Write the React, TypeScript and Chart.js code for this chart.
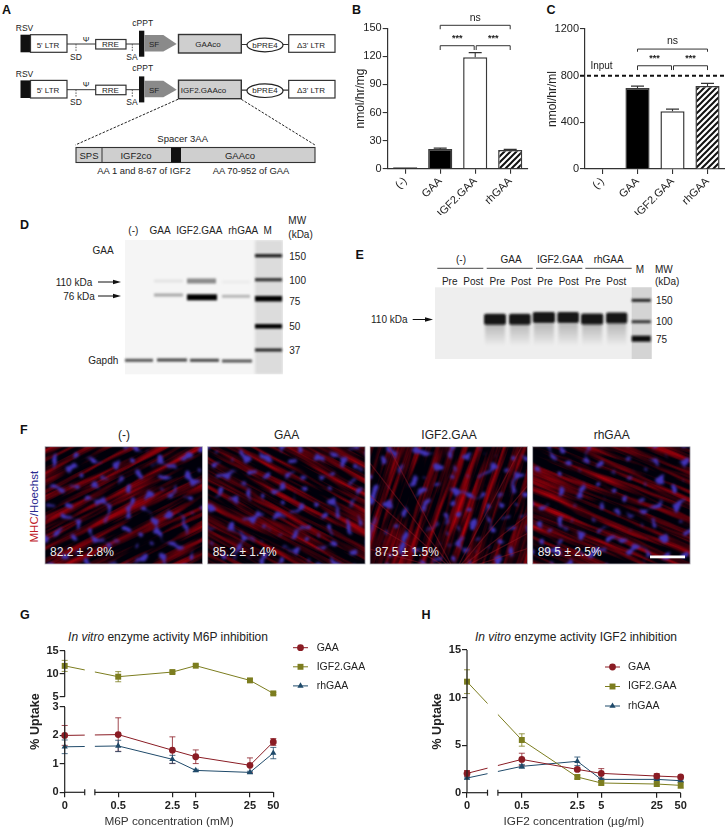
import React, { useEffect, useRef } from "react";
import { Chart, registerables, LinearScale } from "chart.js";
import { drawPoint } from "chart.js/helpers";

// ---------- chart data ----------
const BAR_CATEGORIES = ["(-)", "GAA", "IGF2.GAA", "rhGAA"];
const B_VALUES = [0.4, 21, 119, 20];
const B_ERRORS = [0, 1, 5, 0.6];
const B_TICKS = [0, 30, 60, 90, 120, 150];
const C_VALUES = [0, 695, 495, 712];
const C_ERRORS = [0, 15, 18, 22];
const C_TICKS = [0, 400, 800, 1200];
const C_INPUT = 800;

const CONC = [0, 0.5, 2.5, 5, 25, 50];
const G_TICKS = [0, 1, 2, 3, 5, 10, 15];
const G_GAA = [2.0, 2.03, 1.48, 1.25, 0.95, 1.77];
const G_GAA_ERR = [0.35, 0.59, 0.47, 0.24, 0.26, 0.12];
const G_IGF2 = [11.7, 9.35, 10.36, 11.74, 8.55, 5.72];
const G_IGF2_ERR = [1.2, 1.1, 0.25, 0.2, 0.3, 0.25];
const G_RH = [1.6, 1.63, 1.16, 0.77, 0.7, 1.38];
const G_RH_ERR = [0.24, 0.2, 0.14, 0.04, 0.04, 0.2];

const H_TICKS = [0, 5, 10, 15];
const H_GAA = [2.03, 3.5, 2.45, 2.03, 1.75, 1.65];
const H_GAA_ERR = [0.3, 0.65, 0.15, 0.5, 0.25, 0.1];
const H_IGF2 = [11.67, 5.54, 1.65, 1.02, 0.91, 0.77];
const H_IGF2_ERR = [1.25, 0.65, 0.2, 0.2, 0.2, 0.3];
const H_RH = [1.54, 2.77, 3.3, 1.4, 1.4, 1.26];
const H_RH_ERR = [0.1, 0.2, 0.45, 0.1, 0.1, 0.1];

const GAA_COLOR = "#8a1c24";
const IGF2_COLOR = "#7c7d1f";
const RH_COLOR = "#1f4a6a";
const FONT = "'Liberation Sans', Arial, sans-serif";
const INK = "#222";

// ---------- broken axes ----------
const Y_KNOTS = [[0, 0], [3, 0.6024], [5, 0.675], [15, 1]];
const BREAK_START = 0.096;
const BREAK_END_VALUE = 0.25;
const FRAC_05 = 0.2565;

class BrokenY extends LinearScale {
  static id = "brokenY";
  getPixelForValue(v: any) {
    if (v === null || v === undefined) return NaN;
    for (let i = 1; i < Y_KNOTS.length; i++) {
      const [a, fa] = Y_KNOTS[i - 1];
      const [b, fb] = Y_KNOTS[i];
      if (v <= b) return this.getPixelForDecimal(fa + ((v - a) / (b - a)) * (fb - fa));
    }
    return this.getPixelForDecimal(1);
  }
}
class BreakLogX extends LinearScale {
  static id = "breakLogX";
  getPixelForValue(v: any) {
    if (v === null || v === undefined) return NaN;
    if (v <= 0) return this.getPixelForDecimal(0);
    const f = FRAC_05 + (Math.log10(v / 0.5) / 2) * (1 - FRAC_05);
    return this.getPixelForDecimal(f);
  }
}
Chart.register(...registerables, BrokenY, BreakLogX);
Chart.defaults.font.family = FONT;
Chart.defaults.color = INK;

// ---------- plugins ----------
const barErrors = (errors: number[]) => ({
  id: "barErrors",
  afterDatasetsDraw(chart: any) {
    const { ctx, scales } = chart;
    const vals = chart.data.datasets[0].data;
    ctx.save();
    ctx.strokeStyle = "#333";
    ctx.lineWidth = 1.1;
    errors.forEach((e, i) => {
      if (!e) return;
      const x = scales.x.getPixelForValue(i);
      const y0 = scales.y.getPixelForValue(vals[i]);
      const y1 = scales.y.getPixelForValue(vals[i] + e);
      ctx.beginPath();
      ctx.moveTo(x, y0);
      ctx.lineTo(x, y1);
      ctx.moveTo(x - 6.5, y1);
      ctx.lineTo(x + 6.5, y1);
      ctx.stroke();
    });
    ctx.restore();
  },
});

type Sig = { from: number; to: number; bar: number; leg: number; label: string; text: number; bold?: boolean; inset?: number };
const brackets = (list: Sig[]) => ({
  id: "brackets",
  afterDraw(chart: any) {
    const { ctx, scales } = chart;
    ctx.save();
    ctx.strokeStyle = "#333";
    ctx.fillStyle = INK;
    ctx.lineWidth = 1;
    ctx.textAlign = "center";
    ctx.textBaseline = "middle";
    list.forEach((s) => {
      const xa = scales.x.getPixelForValue(s.from) + (s.inset && s.from > 1 ? s.inset : 0);
      const xb = scales.x.getPixelForValue(s.to) - (s.inset && s.from === 1 && s.to === 2 ? s.inset : 0);
      const yb = scales.y.getPixelForValue(s.bar);
      const yl = scales.y.getPixelForValue(s.leg);
      ctx.beginPath();
      ctx.moveTo(xa, yl);
      ctx.lineTo(xa, yb);
      ctx.lineTo(xb, yb);
      ctx.lineTo(xb, yl);
      ctx.stroke();
      ctx.font = s.bold ? `bold 9px ${FONT}` : `10.5px ${FONT}`;
      ctx.fillText(s.label, (xa + xb) / 2, scales.y.getPixelForValue(s.text));
    });
    ctx.restore();
  },
});

const inputLine = {
  id: "inputLine",
  afterDraw(chart: any) {
    const { ctx, scales } = chart;
    const y = scales.y.getPixelForValue(C_INPUT);
    ctx.save();
    ctx.strokeStyle = "#111";
    ctx.lineWidth = 2;
    ctx.setLineDash([4, 3]);
    ctx.beginPath();
    ctx.moveTo(scales.x.left - 5, y);
    ctx.lineTo(scales.x.right, y);
    ctx.stroke();
    ctx.setLineDash([]);
    ctx.fillStyle = INK;
    ctx.font = `10px ${FONT}`;
    ctx.textAlign = "center";
    ctx.textBaseline = "middle";
    ctx.fillText("Input", scales.x.left + 16.5, y - 9.5);
    ctx.restore();
  },
};

const lineErrors = {
  id: "lineErrors",
  beforeDatasetsDraw(chart: any) {
    const { ctx, scales } = chart;
    ctx.save();
    ctx.lineWidth = 1;
    chart.data.datasets.forEach((ds: any) => {
      ctx.strokeStyle = ds.borderColor;
      ctx.globalAlpha = 0.8;
      ds.data.forEach((p: any, i: number) => {
        const e = ds.errors[i];
        const x = scales.x.getPixelForValue(p.x);
        const a = scales.y.getPixelForValue(p.y + e);
        const b = scales.y.getPixelForValue(p.y - e);
        ctx.beginPath();
        ctx.moveTo(x, a);
        ctx.lineTo(x, b);
        ctx.moveTo(x - 3, a);
        ctx.lineTo(x + 3, a);
        ctx.moveTo(x - 3, b);
        ctx.lineTo(x + 3, b);
        ctx.stroke();
      });
    });
    ctx.restore();
  },
};

const brokenAxes = (broken: boolean) => ({
  id: "brokenAxes",
  afterDatasetsDraw(chart: any) {
    const { ctx, scales, chartArea } = chart;
    const { x, y } = scales;
    const xa = x.left + BREAK_START * x.width;
    const xb = x.getPixelForValue(BREAK_END_VALUE);
    ctx.save();
    ctx.fillStyle = "#fff";
    ctx.fillRect(xa, chartArea.top - 2, xb - xa, chartArea.height + 1);
    ctx.strokeStyle = INK;
    ctx.lineWidth = 1.2;
    const seg = (x1: number, y1: number, x2: number, y2: number) => {
      ctx.beginPath();
      ctx.moveTo(x1, y1);
      ctx.lineTo(x2, y2);
      ctx.stroke();
    };
    seg(x.left, chartArea.bottom, xa, chartArea.bottom);
    seg(xb, chartArea.bottom, x.right, chartArea.bottom);
    seg(xa, chartArea.bottom - 3, xa, chartArea.bottom + 3);
    seg(xb, chartArea.bottom - 3, xb, chartArea.bottom + 3);
    if (broken) {
      seg(x.left, y.getPixelForValue(0), x.left, y.getPixelForValue(3));
      seg(x.left, y.getPixelForValue(5), x.left, y.getPixelForValue(15));
    } else {
      seg(x.left, chartArea.bottom, x.left, chartArea.top);
    }
    ctx.restore();
  },
});

const sideLegend = (lineX: number, textX: number, yTop: number, step: number) => ({
  id: "sideLegend",
  afterDraw(chart: any) {
    const { ctx } = chart;
    ctx.save();
    chart.data.datasets.forEach((ds: any, i: number) => {
      const y = yTop + i * step;
      ctx.strokeStyle = ds.borderColor;
      ctx.fillStyle = ds.borderColor;
      ctx.lineWidth = 1;
      ctx.beginPath();
      ctx.moveTo(lineX, y);
      ctx.lineTo(lineX + 15, y);
      ctx.stroke();
      drawPoint(ctx, { pointStyle: ds.pointStyle, radius: ds.pointRadius, rotation: 0, borderWidth: 0 }, lineX + 7.5, y);
      ctx.fillStyle = INK;
      ctx.font = `10.5px ${FONT}`;
      ctx.textAlign = "left";
      ctx.textBaseline = "middle";
      ctx.fillText(ds.label, textX, y);
    });
    ctx.restore();
  },
});

// ---------- chart configs ----------
function hatch() {
  const c = document.createElement("canvas");
  c.width = 6;
  c.height = 6;
  const g = c.getContext("2d")!;
  g.fillStyle = "#fff";
  g.fillRect(0, 0, 6, 6);
  g.strokeStyle = "#111";
  g.lineWidth = 2;
  g.beginPath();
  g.moveTo(-1, 7);
  g.lineTo(7, -1);
  g.moveTo(-1, 1);
  g.lineTo(1, -1);
  g.moveTo(5, 7);
  g.lineTo(7, 5);
  g.stroke();
  return g.createPattern(c, "repeat");
}

function barConfig(
  values: number[], errors: number[], ticks: number[], max: number, title: string,
  yWidth: number, padTop: number, padRight: number, xHeight: number, titlePad: number, plugins: any[]
) {
  return {
    type: "bar",
    data: {
      labels: BAR_CATEGORIES,
      datasets: [{
        data: values,
        backgroundColor: ["#000", "#000", "#fff", hatch()],
        borderColor: "#3a3a3a",
        borderWidth: 1.5,
        barPercentage: 0.69,
        categoryPercentage: 1,
        minBarLength: values[0] > 0 ? 1.5 : 0,
      }],
    },
    options: {
      responsive: false,
      animation: false,
      layout: { padding: { top: padTop, right: padRight, left: 0, bottom: 0 } },
      plugins: { legend: { display: false }, tooltip: { enabled: false } },
      scales: {
        x: {
          afterFit: (s: any) => { s.height = xHeight; },
          grid: { offset: false, drawOnChartArea: false, drawTicks: true, tickLength: 5, color: "#333", lineWidth: 1.1 },
          border: { display: true, color: "#333", width: 1.2 },
          ticks: { minRotation: 45, maxRotation: 45, autoSkip: false, padding: 1, font: { size: 11 }, color: INK },
        },
        y: {
          min: 0,
          max,
          afterFit: (s: any) => { s.width = yWidth; },
          afterBuildTicks: (s: any) => { s.ticks = ticks.map((value) => ({ value })); },
          grid: { drawOnChartArea: false, drawTicks: true, tickLength: 5, color: "#333", lineWidth: 1.1 },
          border: { display: true, color: "#333", width: 1.2 },
          ticks: { font: { size: 11 }, color: INK, padding: 1, callback: (v: any) => String(v) },
          title: { display: true, text: title, font: { size: 12 }, color: INK, padding: { top: titlePad, bottom: 0 } },
        },
      },
    },
    plugins: [barErrors(errors), ...plugins],
  };
}

const pts = (ys: number[]) => ys.map((y, i) => ({ x: CONC[i], y }));
const series = (label: string, ys: number[], errors: number[], color: string, pointStyle: string, pointRadius: number) => ({
  label, data: pts(ys), errors, borderColor: color, backgroundColor: color, pointStyle, pointRadius,
  pointBorderWidth: 0, borderWidth: 1, clip: false, tension: 0,
});

function lineConfig(
  sets: any[], yType: string, yTicks: number[], xTitle: string, yWidth: number, padTop: number, padRight: number,
  titlePad: number, xHeight: number, broken: boolean, legend: any
) {
  return {
    type: "line",
    data: { datasets: sets },
    options: {
      responsive: false,
      animation: false,
      layout: { padding: { top: padTop, right: padRight, left: 0, bottom: 0 } },
      plugins: { legend: { display: false }, tooltip: { enabled: false } },
      scales: {
        x: {
          type: "breakLogX",
          min: 0,
          max: 50,
          afterFit: (s: any) => { s.height = xHeight; },
          afterBuildTicks: (s: any) => { s.ticks = CONC.map((value) => ({ value })); },
          grid: { drawOnChartArea: false, drawTicks: true, tickLength: 5, color: INK, lineWidth: 1.2 },
          border: { display: false },
          ticks: { autoSkip: false, maxRotation: 0, minRotation: 0, padding: 2, font: { size: 11, weight: "bold" }, color: INK, callback: (v: any) => String(v) },
          title: { display: true, text: xTitle, font: { size: 11.8 }, color: "#333", padding: { top: 0, bottom: 1 } },
        },
        y: {
          type: yType,
          min: 0,
          max: 15,
          afterFit: (s: any) => { s.width = yWidth; },
          afterBuildTicks: (s: any) => { s.ticks = yTicks.map((value) => ({ value })); },
          grid: { drawOnChartArea: false, drawTicks: true, tickLength: 5, color: INK, lineWidth: 1.2 },
          border: { display: false },
          ticks: { autoSkip: false, padding: 1, font: { size: 11, weight: "bold" }, color: INK, callback: (v: any) => String(v) },
          title: { display: true, text: "% Uptake", font: { size: 12.5, weight: "bold" }, color: INK, padding: { top: titlePad, bottom: 0 } },
        },
      },
    },
    plugins: [lineErrors, brokenAxes(broken), legend],
  };
}

const makeB = () =>
  barConfig(B_VALUES, B_ERRORS, B_TICKS, 150, "nmol/hr/mg", 37.7, 28.3, 7.3, 46.3, 3, [
    brackets([
      { from: 1, to: 3, bar: 153.2, leg: 149, label: "ns", text: 160.7 },
      { from: 1, to: 2, bar: 131.4, leg: 126.8, label: "***", text: 138.8, bold: true, inset: 1 },
      { from: 2, to: 3, bar: 131.4, leg: 126.8, label: "***", text: 138.8, bold: true, inset: 1 },
    ]),
  ]);
const makeC = () =>
  barConfig(C_VALUES, C_ERRORS, C_TICKS, 1200, "nmol/hr/ml", 45, 29, 0, 46, 5, [
    inputLine,
    brackets([
      { from: 1, to: 3, bar: 1028, leg: 1005, label: "ns", text: 1098 },
      { from: 1, to: 2, bar: 885, leg: 848, label: "***", text: 945, bold: true, inset: 1 },
      { from: 2, to: 3, bar: 885, leg: 848, label: "***", text: 945, bold: true, inset: 1 },
    ]),
  ]);
const makeG = () =>
  lineConfig(
    [
      series("GAA", G_GAA, G_GAA_ERR, GAA_COLOR, "circle", 3.4),
      series("IGF2.GAA", G_IGF2, G_IGF2_ERR, IGF2_COLOR, "rect", 4.2),
      series("rhGAA", G_RH, G_RH_ERR, RH_COLOR, "triangle", 3.6),
    ],
    "brokenY", G_TICKS, "M6P concentration (mM)", 44.7, 10.7, 71.7 + 20, 8, 37.7, true,
    sideLegend(273, 296.7, 7.7, 19.1)
  );
const makeH = () =>
  lineConfig(
    [
      series("GAA", H_GAA, H_GAA_ERR, GAA_COLOR, "circle", 3.4),
      series("IGF2.GAA", H_IGF2, H_IGF2_ERR, IGF2_COLOR, "rect", 4.2),
      series("rhGAA", H_RH, H_RH_ERR, RH_COLOR, "triangle", 3.6),
    ],
    "linear", H_TICKS, "IGF2 concentration (µg/ml)", 47, 10, 44.3, 10, 37.3, false,
    sideLegend(185, 208, 27, 19.5)
  );

function ChartCanvas({ make, left, top, width, height }: any) {
  const ref = useRef<HTMLCanvasElement>(null);
  useEffect(() => {
    const chart = new Chart(ref.current as any, make());
    return () => chart.destroy();
  }, []);
  return <canvas ref={ref} width={width} height={height} style={{ position: "absolute", left, top, width, height }} />;
}

// ---------- schematic helpers ----------
const T = ({ x, y, s = 8, a = "middle", w, fill = "#222", children, st }: any) => (
  <text x={x} y={y} fontSize={s} textAnchor={a} dominantBaseline="central" fontWeight={w} fill={fill} fontFamily={FONT} fontStyle={st}>
    {children}
  </text>
);
const Arrow = ({ x1, x2, y }: any) => (
  <g>
    <line x1={x1} x2={x2 - 5} y1={y} y2={y} stroke="#111" strokeWidth={1} />
    <polygon points={`${x2},${y} ${x2 - 8},${y - 2.2} ${x2 - 8},${y + 2.2}`} fill="#111" />
  </g>
);

function Construct({ dy, label }: any) {
  return (
    <g transform={`translate(0 ${dy})`}>
      <line x1={67} x2={140} y1={44} y2={44} stroke="#333" strokeWidth={1} />
      <line x1={241} x2={289} y1={44.5} y2={44.5} stroke="#333" strokeWidth={1.2} />
      <rect x={20.5} y={34.7} width={10} height={17.6} fill="#111" />
      <rect x={30.5} y={34.7} width={36.5} height={17.6} fill="#fff" stroke="#333" strokeWidth={1.2} />
      <T x={48} y={45}>5' LTR</T>
      <T x={24.5} y={28} s={8.5}>RSV</T>
      <T x={86} y={39} s={8}>Ψ</T>
      <line x1={76} x2={76} y1={44} y2={52} stroke="#555" strokeDasharray="1.5 1.2" />
      <T x={76} y={56.7} s={8.5}>SD</T>
      <rect x={95.7} y={39.5} width={30.3} height={9.5} fill="#fff" stroke="#333" strokeWidth={1.2} />
      <T x={110.5} y={44.6}>RRE</T>
      <line x1={132.3} x2={132.3} y1={44} y2={52} stroke="#555" strokeDasharray="1.5 1.2" />
      <T x={132} y={56.7} s={8.5}>SA</T>
      <rect x={139} y={30.7} width={5.3} height={26} fill="#111" />
      <T x={142.7} y={22.7} s={8.5}>cPPT</T>
      <polygon points="144.3,35 163.3,35 176.7,44 163.3,51.5 144.3,51.5" fill="#8a8a8a" />
      <T x={154} y={44.7}>SF</T>
      <rect x={178.5} y={34.5} width={62.8} height={18.5} fill="#cfcfcf" stroke="#333" strokeWidth={1.4} />
      <T x={label === "GAAco" ? 208 : 203.5} y={44.4}>{label}</T>
      <ellipse cx={265} cy={45} rx={18} ry={6.8} fill="#fff" stroke="#222" strokeWidth={1.2} />
      <T x={265} y={45}>bPRE4</T>
      <rect x={288.7} y={34.7} width={46.3} height={17.6} fill="#fff" stroke="#333" strokeWidth={1.2} />
      <T x={311} y={45}>Δ3' LTR</T>
    </g>
  );
}

// ---------- blot and micrograph decoration ----------
const D_M_BANDS = [[255.7, 3, "#111"], [279.7, 3.2, "#333"], [298.7, 5.5, "#000"], [326.3, 4.5, "#000"], [350, 3, "#222"]];
const D_BANDS = [
  [154, 183, 295, 3, "#a8a8a8"], [154, 183, 281, 3, "#e4e4e4"],
  [187, 217, 297.3, 6, "#000"], [187, 216, 281, 5, "#8a8a8a"],
  [222, 250, 296.3, 2.8, "#b4b4b4"], [222, 250, 282, 3, "#ececec"],
  [125, 153, 360.3, 3, "#555"], [157, 187, 360, 3, "#444"], [190, 219, 360.3, 3, "#444"], [222, 252, 361, 3, "#555"],
];
const E_BANDS = [
  [484, 506, 319.3], [509, 530.7, 319.3], [532.7, 555, 317.5], [557.3, 579, 317.5], [581, 603.3, 319], [606, 627.3, 318],
];
const E_M_BANDS = [[300.3, 3, "#222"], [321.7, 3, "#333"], [338.7, 6, "#111"]];
const F_PANELS = [
  { x: 45, title: "(-)", pct: "82.2 ± 2.8%", angle: -27, seed: 3 },
  { x: 207.7, title: "GAA", pct: "85.2 ± 1.4%", angle: 28, seed: 11 },
  { x: 370, title: "IGF2.GAA", pct: "87.5 ± 1.5%", angle: -72, seed: 23 },
  { x: 532.7, title: "rhGAA", pct: "89.5 ± 2.5%", angle: 22, seed: 37 },
];
const FAN_ANGLES = [-165, -150, -138, -128, -118, -62, -50, -38, -28, -18];

function CellFilter({ id, seed }: any) {
  return (
    <filter id={id} x="0" y="0" width="100%" height="100%" colorInterpolationFilters="sRGB">
      <feTurbulence type="fractalNoise" baseFrequency="0.012 0.16" numOctaves={3} seed={seed} result="s" />
      <feColorMatrix in="s" type="matrix" values="1.4 0 0 0 -0.54  0 0 0 0 0.0  0 0 0 0 0.04  0 0 0 0 1" result="red" />
      <feTurbulence type="fractalNoise" baseFrequency="0.115" numOctaves={1} seed={seed + 5} result="n" />
      <feColorMatrix in="n" type="matrix" values="0 0 0 0 0.26  0 0 0 0 0.2  0 0 0 0 0.72  9 0 0 0 -5.35" result="blue" />
      <feGaussianBlur in="blue" stdDeviation="0.9" result="softBlue" />
      <feMerge>
        <feMergeNode in="red" />
        <feMergeNode in="softBlue" />
      </feMerge>
    </filter>
  );
}

function Figure() {
  return (
    <svg width={725} height={830} style={{ position: "absolute", left: 0, top: 0 }}>
      <defs>
        <filter id="soft" x="-20%" y="-200%" width="140%" height="500%"><feGaussianBlur stdDeviation="1" /></filter>
        <filter id="softer" x="-20%" y="-30%" width="140%" height="160%"><feGaussianBlur stdDeviation="1.5" /></filter>
        <linearGradient id="smear" x1="0" y1="0" x2="0" y2="1">
          <stop offset="0" stopColor="#b4b4b4" />
          <stop offset="1" stopColor="#f0f0f0" />
        </linearGradient>
        {F_PANELS.map((p, i) => <CellFilter key={i} id={`cells${i}`} seed={p.seed} />)}
        {F_PANELS.map((p, i) => (
          <clipPath key={i} id={`clip${i}`}><rect x={p.x} y={446.7} width={157.4} height={117.3} /></clipPath>
        ))}
        <clipPath id="clipD"><rect x={125} y={240} width={158} height={134.3} /></clipPath>
      </defs>

      {/* panel letters */}
      <T x={2} y={10} s={12.5} a="start" w="bold" fill="#111">A</T>
      <T x={352} y={9.5} s={12.5} a="start" w="bold" fill="#111">B</T>
      <T x={546.5} y={9.5} s={12.5} a="start" w="bold" fill="#111">C</T>
      <T x={20} y={224.5} s={12.5} a="start" w="bold" fill="#111">D</T>
      <T x={355.5} y={255} s={12.5} a="start" w="bold" fill="#111">E</T>
      <T x={20} y={429.5} s={12.5} a="start" w="bold" fill="#111">F</T>
      <T x={20} y={615} s={12.5} a="start" w="bold" fill="#111">G</T>
      <T x={421.5} y={615} s={12.5} a="start" w="bold" fill="#111">H</T>

      {/* A */}
      <Construct dy={0} label="GAAco" />
      <Construct dy={45.7} label="IGF2.GAAco" />
      <line x1={178} y1={99.3} x2={75.3} y2={145} stroke="#222" strokeDasharray="2.5 1.5" />
      <line x1={241.3} y1={99.3} x2={315} y2={145} stroke="#222" strokeDasharray="2.5 1.5" />
      <T x={182.7} y={138.3} s={9.5}>Spacer 3AA</T>
      <rect x={76} y={147.5} width={239} height={15} fill="#cfcfcf" stroke="#333" strokeWidth={1.1} />
      <line x1={102} x2={102} y1={147.5} y2={162.5} stroke="#333" />
      <rect x={171} y={147.5} width={10} height={15} fill="#111" />
      <T x={89} y={155.2} s={9.5}>SPS</T>
      <T x={136} y={155.2} s={9.5}>IGF2co</T>
      <T x={240} y={155.2} s={9.5}>GAAco</T>
      <T x={144} y={170.7} s={9.4}>AA 1 and 8-67 of IGF2</T>
      <T x={251} y={170.7} s={9.4}>AA 70-952 of GAA</T>

      {/* D */}
      <rect x={125} y={240} width={158} height={134.3} fill="#f5f5f5" />
      <rect x={255} y={240} width={28} height={134.3} fill="#dcdcdc" filter="url(#softer)" clipPath="url(#clipD)" />
      {D_M_BANDS.map((b: any, i) => <rect key={i} x={255} y={b[0] - b[1] / 2} width={27} height={b[1]} fill={b[2]} filter="url(#soft)" />)}
      {D_BANDS.map((b: any, i) => <rect key={i} x={b[0]} y={b[2] - b[3] / 2} width={b[1] - b[0]} height={b[3]} fill={b[4]} filter="url(#soft)" />)}
      <T x={133.3} y={230} s={10}>(-)</T>
      <T x={160} y={230} s={10}>GAA</T>
      <T x={199.3} y={230} s={10}>IGF2.GAA</T>
      <T x={243.3} y={230} s={10}>rhGAA</T>
      <T x={267.7} y={230} s={10}>M</T>
      <T x={288.3} y={220.7} s={10} a="start">MW</T>
      <T x={288.3} y={234} s={10} a="start">(kDa)</T>
      <T x={289.3} y={256.7} s={10} a="start">150</T>
      <T x={289.3} y={280.3} s={10} a="start">100</T>
      <T x={289.3} y={301.7} s={10} a="start">75</T>
      <T x={289.3} y={326} s={10} a="start">50</T>
      <T x={289.3} y={350} s={10} a="start">37</T>
      <T x={103} y={250.7} s={10}>GAA</T>
      <T x={74} y={282} s={10}>110 kDa</T>
      <T x={79} y={296.3} s={10}>76 kDa</T>
      <T x={103.3} y={360} s={10}>Gapdh</T>
      <Arrow x1={98} x2={121} y={282} />
      <Arrow x1={98} x2={121} y={296} />

      {/* E */}
      <rect x={435} y={287.3} width={216.7} height={71.7} fill="#eeeeee" />
      <rect x={631.7} y={287.3} width={20} height={71.7} fill="#d4d4d4" />
      {E_BANDS.map((b, i) => (
        <rect key={i} x={b[0] + 1} y={323} width={b[1] - b[0] - 2} height={24} fill="url(#smear)" filter="url(#softer)" />
      ))}
      {E_BANDS.map((b, i) => (
        <rect key={i} x={b[0]} y={b[2] - 5.5} width={b[1] - b[0]} height={11} rx={2} fill="#141414" filter="url(#soft)" />
      ))}
      {E_M_BANDS.map((b: any, i) => <rect key={i} x={631.7} y={b[0] - b[1] / 2} width={19} height={b[1]} fill={b[2]} filter="url(#soft)" />)}
      <T x={461} y={259.3} s={10}>(-)</T>
      <T x={511} y={259.3} s={10}>GAA</T>
      <T x={560} y={259.3} s={10}>IGF2.GAA</T>
      <T x={608.7} y={259.3} s={10}>rhGAA</T>
      {[[437.3, 483.3], [486.7, 532.7], [536, 582.3], [585.3, 631.7]].map((l, i) => (
        <line key={i} x1={l[0]} x2={l[1]} y1={268.3} y2={268.3} stroke="#333" strokeWidth={0.9} />
      ))}
      {[["Pre", 449.7], ["Post", 473.3], ["Pre", 497.3], ["Post", 521], ["Pre", 545], ["Post", 568.7], ["Pre", 592.7], ["Post", 616.3]].map((l: any, i) => (
        <T key={i} x={l[1]} y={281} s={10}>{l[0]}</T>
      ))}
      <T x={640} y={269} s={10}>M</T>
      <T x={655} y={269} s={10} a="start">MW</T>
      <T x={655} y={281.7} s={10} a="start">(kDa)</T>
      <T x={656} y={300.7} s={10} a="start">150</T>
      <T x={656} y={321} s={10} a="start">100</T>
      <T x={656} y={339.3} s={10} a="start">75</T>
      <T x={389.3} y={319.7} s={10}>110 kDa</T>
      <Arrow x1={412.7} x2={433} y={319.5} />

      {/* F */}
      {F_PANELS.map((p, i) => (
        <g key={i}>
          <T x={p.x + 79} y={435} s={12}>{p.title}</T>
          <g clipPath={`url(#clip${i})`}>
            <rect x={p.x} y={446.7} width={157.4} height={117.3} fill="#050208" />
            <rect
              x={p.x - 40} y={410} width={240} height={190}
              filter={`url(#cells${i})`}
              transform={`rotate(${p.angle} ${p.x + 79} 505)`}
            />
            {i === 2 && FAN_ANGLES.map((a, k) => (
              <line key={k} x1={455} y1={572}
                x2={455 + 170 * Math.cos((a * Math.PI) / 180)}
                y2={572 + 170 * Math.sin((a * Math.PI) / 180)}
                stroke="#a01a28" strokeWidth={1.2} opacity={0.4} />
            ))}
          </g>
          <rect x={p.x} y={446.7} width={157.4} height={117.3} fill="none" stroke="#b9b9c0" strokeWidth={0.8} />
          <T x={p.x + 5} y={551.7} s={12} a="start" fill="#eeeeee">{p.pct}</T>
        </g>
      ))}
      <rect x={650} y={555.5} width={35} height={2.8} fill="#fff" />
      <text transform="translate(34.3 506.7) rotate(-90)" fontSize={11.5} fontFamily={FONT} textAnchor="middle" dominantBaseline="central">
        <tspan fill="#c0202a">MHC</tspan><tspan fill="#2a2a90">/Hoechst</tspan>
      </text>

      {/* G, H titles */}
      <text x={168} y={636.7} fontSize={12} fontFamily={FONT} textAnchor="middle" dominantBaseline="central" fill="#222">
        <tspan fontStyle="italic">In vitro</tspan> enzyme activity M6P inhibition
      </text>
      <text x={576} y={637} fontSize={12} fontFamily={FONT} textAnchor="middle" dominantBaseline="central" fill="#222">
        <tspan fontStyle="italic">In vitro</tspan> enzyme activity IGF2 inhibition
      </text>
    </svg>
  );
}

export default function App() {
  return (
    <div style={{ position: "absolute", left: 0, top: 0, width: 725, height: 830, background: "#fff", overflow: "hidden" }}>
      <Figure />
      <ChartCanvas make={makeB} left={350} top={0} width={185} height={215} />
      <ChartCanvas make={makeC} left={540} top={0} width={185} height={215} />
      <ChartCanvas make={makeG} left={20} top={640} width={345} height={190} />
      <ChartCanvas make={makeH} left={420} top={640} width={305} height={190} />
    </div>
  );
}
